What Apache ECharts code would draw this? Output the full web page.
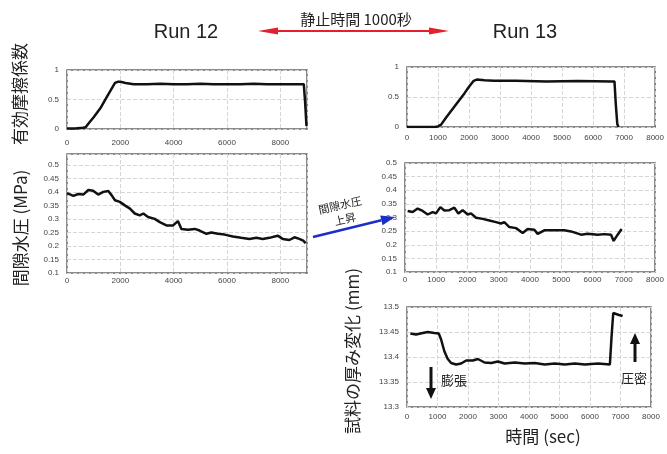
<!DOCTYPE html>
<html>
<head>
<meta charset="utf-8">
<script src="https://cdn.jsdelivr.net/npm/echarts@6/dist/echarts.min.js"></script>
<style>
  html, body { margin: 0; padding: 0; background: #fff; }
  #chart { width: 667px; height: 454px; }
</style>
</head>
<body>
<div id="chart"></div>
<script>
// Run 12 有効摩擦係数
const run12FricTime = [0, 300, 600, 700, 800, 1000, 1250, 1500, 1800, 1900, 2000, 2200, 2500, 3000, 3500, 4000, 4500, 5000, 5500, 6000, 6500, 7000, 7500, 8000, 8500, 8880, 8930, 8980]
const run12Fric = [0.01, 0.01, 0.02, 0.03, 0.09, 0.2, 0.35, 0.55, 0.78, 0.8, 0.8, 0.78, 0.76, 0.76, 0.765, 0.76, 0.76, 0.765, 0.76, 0.76, 0.76, 0.765, 0.76, 0.76, 0.76, 0.76, 0.45, 0.05]

// Run 12 間隙水圧 (MPa)
const run12PoreTime = [0, 50, 240, 420, 610, 800, 980, 1170, 1360, 1550, 1670, 1800, 1980, 2170, 2360, 2540, 2730, 2860, 3040, 3290, 3480, 3730, 3980, 4160, 4290, 4540, 4790, 4970, 5230, 5410, 5660, 5910, 6220, 6530, 6840, 7100, 7340, 7590, 7900, 8090, 8340, 8530, 8710, 8860, 8950]
const run12Pore = [0.395, 0.394, 0.385, 0.392, 0.39, 0.407, 0.404, 0.39, 0.4, 0.403, 0.388, 0.369, 0.363, 0.35, 0.338, 0.32, 0.313, 0.32, 0.307, 0.3, 0.288, 0.276, 0.276, 0.292, 0.263, 0.26, 0.263, 0.257, 0.245, 0.25, 0.245, 0.242, 0.235, 0.23, 0.226, 0.23, 0.226, 0.23, 0.238, 0.226, 0.222, 0.232, 0.226, 0.22, 0.21]

// Run 13 有効摩擦係数
const run13FricTime = [0, 900, 1000, 1100, 1250, 1500, 1850, 2000, 2150, 2250, 2500, 2800, 3500, 4500, 5500, 6600, 6690, 6730, 6780, 6820]
const run13Fric = [0, 0, 0.01, 0.04, 0.15, 0.32, 0.56, 0.67, 0.77, 0.79, 0.78, 0.77, 0.77, 0.76, 0.765, 0.76, 0.76, 0.4, 0.05, 0]

// Run 13 間隙水圧 (MPa)
const run13PoreTime = [85, 245, 405, 565, 725, 885, 992, 1131, 1259, 1419, 1579, 1707, 1845, 2005, 2112, 2272, 2485, 2699, 2912, 3072, 3179, 3339, 3552, 3765, 3925, 4139, 4245, 4459, 4779, 5099, 5312, 5632, 5845, 6165, 6379, 6592, 6677, 6805, 6933]
const run13Pore = [0.324, 0.32, 0.333, 0.324, 0.311, 0.32, 0.315, 0.338, 0.326, 0.327, 0.336, 0.315, 0.327, 0.311, 0.315, 0.299, 0.295, 0.289, 0.283, 0.278, 0.283, 0.265, 0.261, 0.243, 0.258, 0.255, 0.24, 0.253, 0.253, 0.253, 0.249, 0.237, 0.24, 0.237, 0.239, 0.237, 0.214, 0.237, 0.258]

// Run 13 試料の厚み変化 (mm)
const run13ThickTime = [110, 296, 515, 680, 900, 1041, 1118, 1227, 1337, 1447, 1611, 1775, 1940, 2159, 2323, 2542, 2762, 2981, 3200, 3529, 3858, 4186, 4515, 4844, 5173, 5501, 5830, 6268, 6652, 6707, 6762, 6825, 6950, 7068]
const run13Thick = [13.447, 13.445, 13.448, 13.45, 13.448, 13.447, 13.435, 13.411, 13.396, 13.388, 13.385, 13.387, 13.393, 13.393, 13.396, 13.389, 13.388, 13.391, 13.387, 13.389, 13.387, 13.388, 13.385, 13.387, 13.385, 13.387, 13.385, 13.387, 13.385, 13.441, 13.488, 13.49, 13.484, 13.482]

const jpFont = '"Noto Sans CJK JP", sans-serif'

function pairs(t, v) {
  return t.map((x, i) => [x, v[i]])
}

function xAxisOf(gridIndex, max, interval, margin) {
  return {
    type: 'value', gridIndex, min: 0, max, interval,
    axisLine: { show: false }, axisTick: { show: false },
    axisLabel: {
      fontSize: 8, color: '#444', margin,
      showMaxLabel: max % interval === 0,
      formatter: (v) => String(v)
    },
    splitLine: { show: true, lineStyle: { color: '#d6d6d6', type: 'dashed' } }
  }
}

function yAxisOf(gridIndex, min, max, interval) {
  return {
    type: 'value', gridIndex, min, max, interval,
    axisLine: { show: false }, axisTick: { show: false },
    axisLabel: { fontSize: 8, color: '#444', margin: 8, showMaxLabel: Math.abs(max / interval - Math.round(max / interval)) < 1e-6 },
    splitLine: { show: true, lineStyle: { color: '#d6d6d6', type: 'dashed' } }
  }
}

function lineOf(idx, t, v) {
  return {
    type: 'line', xAxisIndex: idx, yAxisIndex: idx,
    data: pairs(t, v), showSymbol: false, silent: true,
    lineStyle: { color: '#111', width: 2.5 }
  }
}

// 注釈用の矢印（線＋三角形）
function arrow(x1, y1, x2, y2, color, width, headLen, headHalf) {
  const ang = Math.atan2(y2 - y1, x2 - x1)
  const bx = x2 - Math.cos(ang) * headLen
  const by = y2 - Math.sin(ang) * headLen
  const nx = -Math.sin(ang) * headHalf
  const ny = Math.cos(ang) * headHalf
  return [
    { type: 'line', z: 100, shape: { x1, y1, x2: bx, y2: by }, style: { stroke: color, lineWidth: width, lineDash: null } },
    { type: 'polygon', z: 100, shape: { points: [[x2, y2], [bx + nx, by + ny], [bx - nx, by - ny]] }, style: { fill: color } }
  ]
}

function text(str, x, y, size, opts) {
  return Object.assign({
    type: 'text', x, y, z: 100,
    style: { text: str, fontSize: size, fontFamily: jpFont, fill: '#222', align: 'center', verticalAlign: 'middle' }
  }, opts || {})
}

const chart = echarts.init(document.getElementById('chart'))

const boxStyle = { show: true, borderColor: '#666', borderWidth: 1.5, backgroundColor: 'transparent' }
const runFont = { fontSize: 20, fontFamily: '"Liberation Sans", Arial', fill: '#222', align: 'center', verticalAlign: 'middle' }

chart.setOption({
  animation: false,
  backgroundColor: '#fff',
  grid: [
    Object.assign({ left: 67, top: 70, width: 240, height: 59 }, boxStyle),
    Object.assign({ left: 67, top: 154, width: 240, height: 119 }, boxStyle),
    Object.assign({ left: 407, top: 67, width: 252, height: 60 }, boxStyle),
    Object.assign({ left: 405, top: 163, width: 250, height: 109 }, boxStyle),
    Object.assign({ left: 407, top: 307, width: 244, height: 100 }, boxStyle)
  ],
  xAxis: [
    xAxisOf(0, 9000, 2000, 10),
    xAxisOf(1, 9000, 2000, 4),
    xAxisOf(2, 8000, 1000, 7),
    xAxisOf(3, 8000, 1000, 4),
    xAxisOf(4, 8000, 1000, 6)
  ],
  yAxis: [
    yAxisOf(0, 0, 1, 0.5),
    yAxisOf(1, 0.1, 0.54, 0.05),
    yAxisOf(2, 0, 1, 0.5),
    yAxisOf(3, 0.1, 0.5, 0.05),
    yAxisOf(4, 13.3, 13.5, 0.05)
  ],
  series: [
    lineOf(0, run12FricTime, run12Fric),
    lineOf(1, run12PoreTime, run12Pore),
    lineOf(2, run13FricTime, run13Fric),
    lineOf(3, run13PoreTime, run13Pore),
    lineOf(4, run13ThickTime, run13Thick)
  ],
  graphic: [
    text('Run 12', 186, 32, 20, { style: Object.assign({ text: 'Run 12' }, runFont) }),
    text('Run 13', 525, 32, 20, { style: Object.assign({ text: 'Run 13' }, runFont) }),
    text('静止時間 1000秒', 356, 19, 15),
    ...arrow(300, 31, 258, 31, '#e3202b', 2, 20, 3.5),
    ...arrow(300, 31, 449, 31, '#e3202b', 2, 20, 3.5),
    text('有効摩擦係数', 20, 94, 17, { rotation: Math.PI / 2 }),
    text('間隙水圧 (MPa)', 21, 228, 17, { rotation: Math.PI / 2 }),
    text('試料の厚み変化 (mm)', 353, 351, 17, { rotation: Math.PI / 2 }),
    text('時間 (sec)', 543, 437, 17),
    text('間隙水圧', 340, 205, 11, { rotation: 0.22 }),
    text('上昇', 345, 219, 11, { rotation: 0.22 }),
    ...arrow(313, 237, 395, 217, '#1c2ec8', 2.5, 14, 5),
    ...arrow(431, 367, 431, 399, '#111', 3, 11, 5),
    text('膨張', 454, 380, 13),
    ...arrow(635, 362, 635, 333, '#111', 3, 11, 5),
    text('圧密', 634, 378, 13)
  ]
})
</script>
</body>
</html>
